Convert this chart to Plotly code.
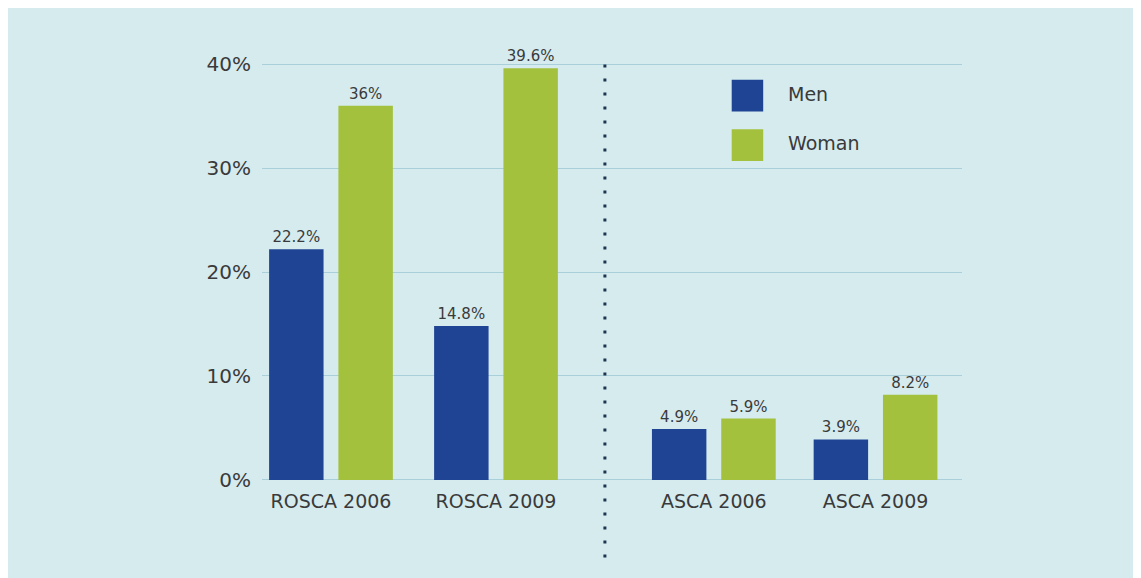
import plotly.graph_objects as go

categories = ["ROSCA 2006", "ROSCA 2009", "ASCA 2006", "ASCA 2009"]
cat_pos = [0, 1, 2.32, 3.3]
men = [22.2, 14.8, 4.9, 3.9]
women = [36, 39.6, 5.9, 8.2]
men_labels = ["22.2%", "14.8%", "4.9%", "3.9%"]
women_labels = ["36%", "39.6%", "5.9%", "8.2%"]
series_names = ["Men", "Woman"]
y_ticks = [0, 10, 20, 30, 40]
y_tick_labels = ["0%", "10%", "20%", "30%", "40%"]

men_color = "#1f4494"
women_color = "#a3c13c"
bg = "#d5ebee"
font_family = "DejaVu Sans"

fig = go.Figure()
fig.add_trace(go.Bar(
    x=cat_pos, y=men, name=series_names[0], width=0.33, offset=-0.375,
    marker=dict(color=men_color, line=dict(width=0)),
    text=men_labels, textposition="outside", cliponaxis=False,
    textfont=dict(size=15, color="#3a3a3a", family=font_family),
    showlegend=False,
))
fig.add_trace(go.Bar(
    x=cat_pos, y=women, name=series_names[1], width=0.33, offset=0.045,
    marker=dict(color=women_color, line=dict(width=0)),
    text=women_labels, textposition="outside", cliponaxis=False,
    textfont=dict(size=15, color="#3a3a3a", family=font_family),
    showlegend=False,
))

# separator between ROSCA and ASCA groups
sep_x = (cat_pos[1] + cat_pos[2]) / 2
fig.add_shape(type="line", xref="x", yref="paper", x0=sep_x, x1=sep_x,
              y0=-0.18, y1=0.995,
              line=dict(color="#1e3550", width=3, dash="3px,11px"))

# legend
legend_colors = [men_color, women_color]
legend_y = [(0.882, 0.958), (0.764, 0.840)]
for name, col, (ya, yb) in zip(series_names, legend_colors, legend_y):
    fig.add_shape(type="rect", xref="paper", yref="paper",
                  x0=0.671, x1=0.716, y0=ya, y1=yb,
                  fillcolor=col, line=dict(width=0))
    fig.add_annotation(xref="paper", yref="paper", x=0.748, y=(ya + yb) / 2 + 0.005,
                       text=name, showarrow=False, xanchor="left", yanchor="middle",
                       font=dict(size=19, color="#3a3a3a", family=font_family))

fig.update_layout(
    width=1141, height=578,
    margin=dict(l=254, r=187, t=54, b=104),
    paper_bgcolor=bg, plot_bgcolor=bg,
    barmode="overlay",
    font=dict(family=font_family, color="#3a3a3a"),
    xaxis=dict(range=[-0.418, 3.824], tickvals=cat_pos, ticktext=categories,
               showgrid=False, zeroline=False, showline=False,
               tickfont=dict(size=19, color="#3a3a3a"), ticks="",
               ticklabelstandoff=6),
    yaxis=dict(range=[-0.2, 40.2], tickvals=y_ticks, ticktext=y_tick_labels,
               showgrid=True, gridcolor="#a9cfda", gridwidth=1,
               zeroline=False, showline=False, ticks="",
               tickfont=dict(size=20, color="#3a3a3a"),
               ticklabelstandoff=10),
)

fig.write_html("out.html")
